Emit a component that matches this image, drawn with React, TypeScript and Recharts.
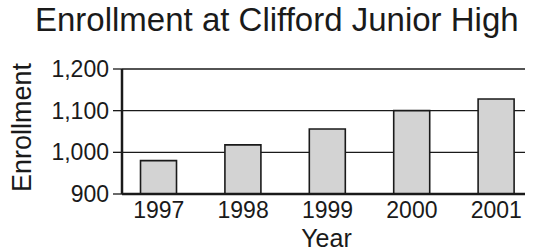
import { BarChart, Bar, XAxis, YAxis, CartesianGrid } from "recharts";

const years = [1997, 1998, 1999, 2000, 2001];
const enrollment = [980, 1018, 1056, 1100, 1128];
const yTicks = [900, 1000, 1100, 1200];

const data = years.map((year, i) => ({ year, enrollment: enrollment[i] }));

const font = "'Liberation Sans', Arial, Helvetica, sans-serif";
const ink = "#1a1a1a";

export default function App() {
  return (
    <div style={{ position: "fixed", left: 0, top: 0, width: 533, height: 251, background: "#fff", fontFamily: font }}>
      <div
        style={{
          position: "absolute",
          left: 35,
          top: 1,
          fontSize: 33,
          lineHeight: "38px",
          color: ink,
          whiteSpace: "nowrap",
        }}
      >
        Enrollment at Clifford Junior High
      </div>
      <BarChart width={533} height={251} data={data} margin={{ top: 69, right: 8, bottom: 0, left: 0 }}>
        <CartesianGrid vertical={false} stroke={ink} strokeWidth={1.3} />
        <XAxis
          dataKey="year"
          type="number"
          domain={[1996.565, 2001.34]}
          ticks={years}
          allowDataOverflow
          tickLine={false}
          axisLine={{ stroke: ink, strokeWidth: 2.5 }}
          tick={{ fill: ink, fontSize: 23, fontFamily: font }}
          height={57}
          label={({ viewBox }: any) => (
            <text
              x={viewBox.x + viewBox.width / 2 + 3}
              y={viewBox.y + 53}
              textAnchor="middle"
              fill={ink}
              fontSize={25}
              fontFamily={font}
            >
              Year
            </text>
          )}
        />
        <YAxis
          domain={[900, 1200]}
          ticks={yTicks}
          interval={0}
          width={122}
          tickSize={9}
          tickMargin={4}
          tickFormatter={(v) => v.toLocaleString("en-US")}
          tickLine={{ stroke: ink, strokeWidth: 1.3 }}
          axisLine={{ stroke: ink, strokeWidth: 2.5 }}
          tick={{ fill: ink, fontSize: 23, fontFamily: font }}
          label={({ viewBox }: any) => {
            const cx = 22;
            const cy = viewBox.y + viewBox.height / 2 - 4;
            return (
              <text
                x={cx}
                y={cy}
                transform={`rotate(-90, ${cx}, ${cy})`}
                textAnchor="middle"
                dominantBaseline="central"
                fill={ink}
                fontSize={27}
                fontFamily={font}
              >
                Enrollment
              </text>
            );
          }}
        />
        <Bar dataKey="enrollment" barSize={36} fill="#d3d3d3" stroke={ink} strokeWidth={1.6} isAnimationActive={false} />
      </BarChart>
    </div>
  );
}
